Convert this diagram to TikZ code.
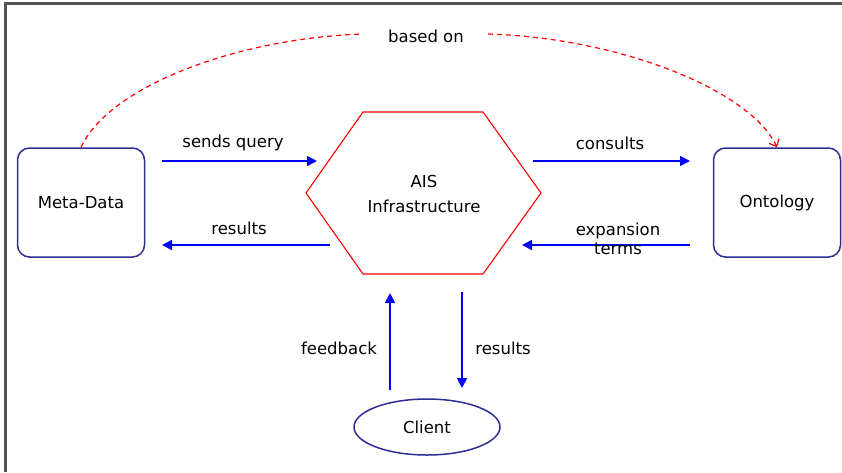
\documentclass[tikz,border=0pt]{standalone}
\usepackage{fontspec}
\setmainfont{DejaVu Sans}
\usetikzlibrary{arrows.meta,shapes.geometric,calc}
\definecolor{navy}{RGB}{45,45,150}
\definecolor{arrblue}{RGB}{0,0,255}
\definecolor{framegray}{RGB}{85,85,85}
\definecolor{hexred}{RGB}{255,0,0}
\begin{document}
\begin{tikzpicture}[x=1pt,y=-1pt,
  txt/.style={font=\fontsize{16.5}{19}\selectfont},
  box/.style={txt,draw=navy,line width=1.5pt,rounded corners=12pt,minimum width=127pt,minimum height=109pt,inner sep=0pt},
  lbl/.style={txt,inner sep=0pt,align=center},
  arr/.style={draw=arrblue,line width=1.7pt,-{Triangle[length=10pt,width=10pt]}},
  basedon/.style={draw=hexred,line width=1.2pt,dash pattern=on 5pt off 4pt}]
\useasboundingbox (0,0) rectangle (842,472);
% frame
\draw[framegray,line width=2.6pt] (5.5,472) -- (5.5,3.5) -- (842,3.5);
% nodes
\node[box] (md) at (81,202.5) {Meta-Data};
\node[box] (onto) at (777,202.5) {Ontology};
\node[txt,draw=navy,line width=1.5pt,ellipse,minimum width=146pt,minimum height=56pt,inner sep=0pt] (client) at (427,427) {Client};
\draw[hexred,line width=1.1pt] (306,193) coordinate (hl) -- (363,112) -- (483,112) -- (541,193) coordinate (hr) -- (483,274) -- (363,274) -- cycle;
\node[lbl,font=\fontsize{16.5}{25}\selectfont] (ais) at (424,193.5) {AIS\\Infrastructure};
% arrow end points
\coordinate (sq1) at (162,161); \coordinate (sq2) at (317,161);
\coordinate (rl1) at (330,245); \coordinate (rl2) at (162,245);
\coordinate (co1) at (533,161); \coordinate (co2) at (690,161);
\coordinate (ex1) at (690,245); \coordinate (ex2) at (522,245);
\coordinate (fb1) at (390,390); \coordinate (fb2) at (390,293);
\coordinate (rd1) at (462,292); \coordinate (rd2) at (462,388);
\draw[arr] (sq1) -- (sq2);
\draw[arr] (rl1) -- (rl2);
\draw[arr] (co1) -- (co2);
\draw[arr] (ex1) -- (ex2);
\draw[arr] (fb1) -- (fb2);
\draw[arr] (rd1) -- (rd2);
% labels
\node[lbl] (lsq) at (233,143) {sends query};
\node[lbl] (lrl) at (239,228) {results};
\node[lbl] (lco) at (610,143) {consults};
\node[lbl] (lex) at (618,238.5) {expansion\\terms};
\node[lbl] (lfb) at (339,348) {feedback};
\node[lbl] (lrd) at (503,348) {results};
\node[lbl] (bo) at (426,36) {based on};
% based on curve
\coordinate (bl) at (363,34); \coordinate (br) at (488,34);
\draw[basedon] (md.north) .. controls (110,85) and (240,38) .. (bl);
\draw[basedon,-{Straight Barb[length=6pt,width=11pt]}] (br) .. controls (620,38) and (750,90) .. (onto.north);
\end{tikzpicture}
\end{document}
